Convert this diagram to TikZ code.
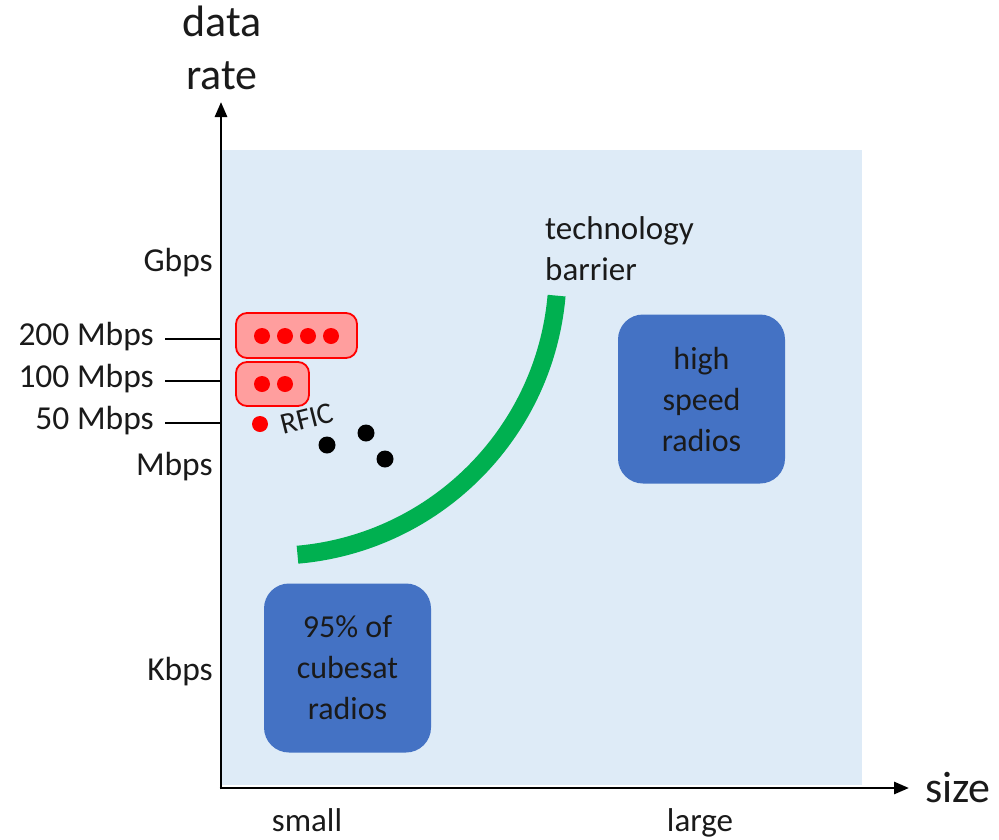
\documentclass[tikz,border=0pt]{standalone}
\usepackage{fontspec}
\setmainfont{Carlito}
\usetikzlibrary{arrows.meta}
\definecolor{bgblue}{HTML}{DEEBF7}
\definecolor{boxblue}{HTML}{4472C4}
\definecolor{chipfill}{HTML}{FF9E9E}
\definecolor{barriergreen}{HTML}{00B050}
\definecolor{txt}{HTML}{1A1A1A}
\begin{document}
\begin{tikzpicture}[x=1pt,y=-1pt,
  axisline/.style={line width=2.8pt,draw=black,-{Triangle[length=15pt,width=12pt]}},
  tickline/.style={line width=2.4pt,draw=black},
  ticklabel/.style={font=\fontsize{33.5}{38}\selectfont,text=txt,anchor=base east,inner sep=0pt},
  biglabel/.style={font=\fontsize{44}{53}\selectfont,text=txt,inner sep=0pt,align=center},
  lbl/.style={font=\fontsize{33}{41}\selectfont,text=txt,inner sep=0pt},
  bluebox/.style={fill=boxblue,rounded corners=25pt,minimum width=167pt,minimum height=169pt,
    align=center,font=\fontsize{32}{41}\selectfont,text=txt,inner sep=0pt},
  chipbox/.style={fill=chipfill,draw=red,line width=1.8pt,rounded corners=11pt,inner sep=0pt},
  reddot/.style={circle,fill=red,minimum size=16pt,inner sep=0pt},
  blackdot/.style={circle,fill=black,minimum size=17pt,inner sep=0pt},
  barrierline/.style={draw=barriergreen,line width=18pt}
]
\useasboundingbox (0,0) rectangle (999,839);
% background region
\fill[bgblue] (222,150) rectangle (862,785);
% axes
\coordinate (origin) at (221,788);
\coordinate (ytip) at (221,102);
\coordinate (xtip) at (909,788);
\coordinate (xstart) at (219.6,788);
\coordinate (ystart) at (221,789.4);
\draw[axisline] (ystart) -- (ytip);
\draw[axisline] (xstart) -- (xtip);
\node[biglabel] (ylabel) at (222,48) {data\\rate};
\node[biglabel,anchor=base west] (xlabel) at (925,802) {size};
% ticks
\coordinate (t200) at (165,339);
\coordinate (t100) at (165,381);
\coordinate (t50) at (165,423);
\draw[tickline] (t200) -- (t200 -| origin);
\draw[tickline] (t100) -- (t100 -| origin);
\draw[tickline] (t50) -- (t50 -| origin);
\node[ticklabel] (gbps) at (213,271) {Gbps};
\node[ticklabel] (l200) at (154,345) {200 Mbps};
\node[ticklabel] (l100) at (154,387) {100 Mbps};
\node[ticklabel] (l50) at (154,429) {50 Mbps};
\node[ticklabel] (mbps) at (213,475) {Mbps};
\node[ticklabel] (kbps) at (213,680) {Kbps};
\node[lbl,anchor=base] (small) at (307,831) {small};
\node[lbl,anchor=base] (large) at (700,831) {large};
% technology barrier
\coordinate (arcstart) at (297.5,554.7);
\draw[barrierline] (arcstart) arc[start angle=85,end angle=5,radius=285];
\node[lbl,anchor=north west,align=left] (barrierlabel) at (545,216) {technology\\barrier};
% blue boxes
\node[bluebox] (highspeed) at (701.5,399) {high\\speed\\radios};
\node[bluebox] (cubesat) at (347.5,668) {95\% of\\cubesat\\radios};
% RFIC chips
\node[chipbox,minimum width=121pt,minimum height=45pt] (chip4) at (296.5,335.5) {};
\node[chipbox,minimum width=73pt,minimum height=44pt] (chip2) at (272.5,384) {};
\foreach \x/\n in {262/a,285/b,308/c,331/d}{
  \node[reddot] (c4\n) at (\x,336) {};
}
\foreach \x/\n in {262/a,285/b}{
  \node[reddot] (c2\n) at (\x,384) {};
}
\node[reddot] (rfic) at (260,424) {};
\node[lbl,font=\fontsize{30}{36}\selectfont,rotate=14] (rficlabel) at (307,418.5) {RFIC};
\node[blackdot] (k1) at (327,445) {};
\node[blackdot] (k2) at (366,433) {};
\node[blackdot] (k3) at (385,459) {};
\end{tikzpicture}
\end{document}
